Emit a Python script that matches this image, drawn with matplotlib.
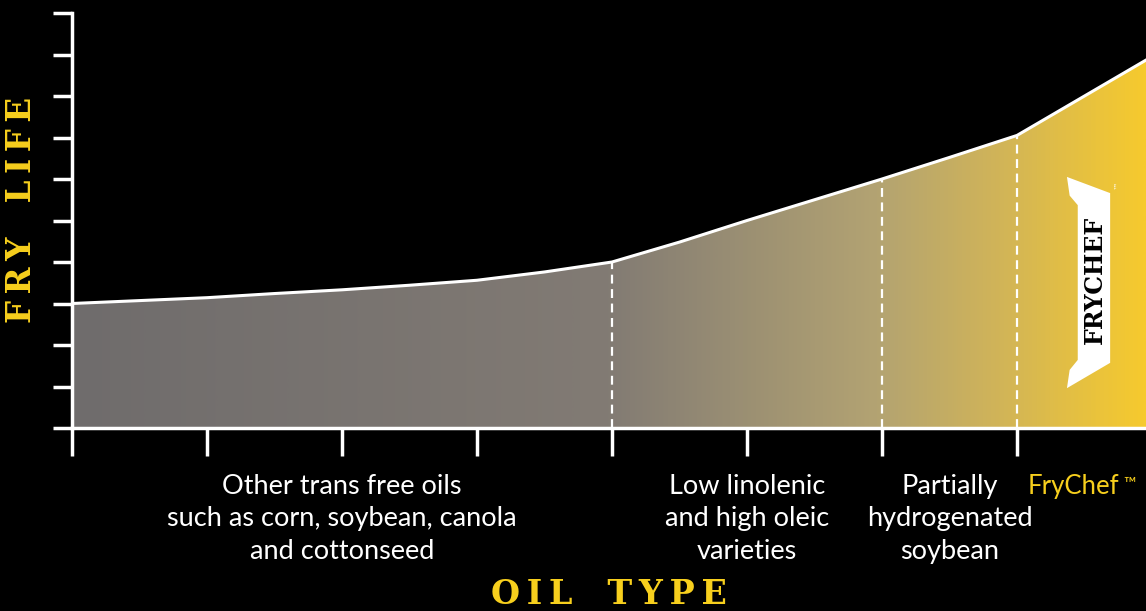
import numpy as np
import matplotlib.pyplot as plt
from matplotlib.colors import LinearSegmentedColormap
from matplotlib.patches import Polygon

# oil type position along x and fry life
oil_x = [0, 0.5, 1, 1.5, 2, 2.5, 3, 3.5, 4, 4.5, 5, 5.5, 6, 6.5, 7, 7.5, 8]
fry_life = [3.0, 3.07, 3.14, 3.24, 3.33, 3.44, 3.56, 3.76, 4.0, 4.48, 5.0, 5.5,
            6.0, 6.52, 7.05, 8.0, 8.95]
divider_x = [4, 6, 7]
label_x = [2, 5, 6.5, 7.42]
labels = ["Other trans free oils\nsuch as corn, soybean, canola\nand cottonseed",
          "Low linolenic\nand high oleic\nvarieties",
          "Partially\nhydrogenated\nsoybean",
          "FryChef"]

yellow = "#f7cf1d"
xmax = 1074 / 135

fig = plt.figure(figsize=(11.46, 6.11), dpi=100, facecolor="black")
ax = fig.add_axes([72 / 1146, 1 - 428 / 611, 1 - 72 / 1146, (428 - 13) / 611])
ax.set_facecolor("black")
ax.set_xlim(0, xmax)
ax.set_ylim(0, 10)

# gradient fill under the curve
cmap = LinearSegmentedColormap.from_list(
    "oil", [(0, "#6f6c6c"), (0.5, "#827b74"), (0.75, "#b3a372"), (0.87, "#d2b557"), (1, "#f6ca2e")])
grad = np.linspace(0, 1, 512).reshape(1, -1)
im = ax.imshow(grad, extent=[0, xmax, 0, 10], aspect="auto", cmap=cmap, zorder=1)
clip = Polygon(list(zip(oil_x, fry_life)) + [(8, 0), (0, 0)], closed=True, transform=ax.transData)
im.set_clip_path(clip)

ax.plot(oil_x, fry_life, color="white", lw=2.2, zorder=3)
for dx in divider_x:
    ax.plot([dx, dx], [0, np.interp(dx, oil_x, fry_life)], color="white", lw=1.6,
            ls=(0, (4, 2.5)), zorder=3)

# axes
for s in ["top", "right"]:
    ax.spines[s].set_visible(False)
for s in ["left", "bottom"]:
    ax.spines[s].set_color("white")
    ax.spines[s].set_linewidth(2.5)
    ax.spines[s].set_zorder(4)
ax.set_yticks(range(0, 11))
ax.set_xticks(range(0, 8))
ax.tick_params(axis="y", colors="white", length=14, width=2.5, direction="out", labelleft=False)
ax.tick_params(axis="x", colors="white", length=20, width=2.5, direction="out", labelbottom=False)

for lx, txt in zip(label_x, labels):
    ax.text(lx, -1.1, txt, ha="center", va="top", color=yellow if txt == "FryChef" else "white",
            fontsize=19.5 if txt != "FryChef" else 18.5, family="Lato", linespacing=1.38,
            clip_on=False)
ax.text(7.79, -1.15, "\u2122", ha="left", va="top", color=yellow, fontsize=12,
        family="Lato", clip_on=False)

ts = "\u2009"
ax.text(3.98, -4.02, ts.join("OIL") + "   " + ts.join("TYPE"), ha="center", va="center",
        color=yellow, fontsize=24, family="DejaVu Serif", fontweight="bold", clip_on=False)
fig.text(22 / 1146, 1 - 210 / 611, ts.join("FRY") + "   " + ts.join("LIFE"), ha="center",
         va="center", rotation=90, color=yellow, fontsize=23.5, family="DejaVu Serif",
         fontweight="bold")

# FryChef banner
banner = Polygon([(7.37, 6.05), (7.69, 5.66), (7.69, 1.57), (7.37, 0.96), (7.39, 1.40),
                  (7.45, 1.64), (7.45, 5.37), (7.39, 5.6)],
                 closed=True, facecolor="white", edgecolor="none", zorder=4)
ax.add_patch(banner)
ax.text(7.575, 3.57, "FRYCHEF", rotation=90, ha="center", va="center", color="black",
        fontsize=17, family="DejaVu Serif", fontweight="bold", zorder=5)
ax.text(7.745, 5.85, "\u2122", rotation=90, ha="center", va="center", color="white",
        fontsize=6, zorder=5)

fig.savefig("out.png", dpi=100, facecolor="black")
